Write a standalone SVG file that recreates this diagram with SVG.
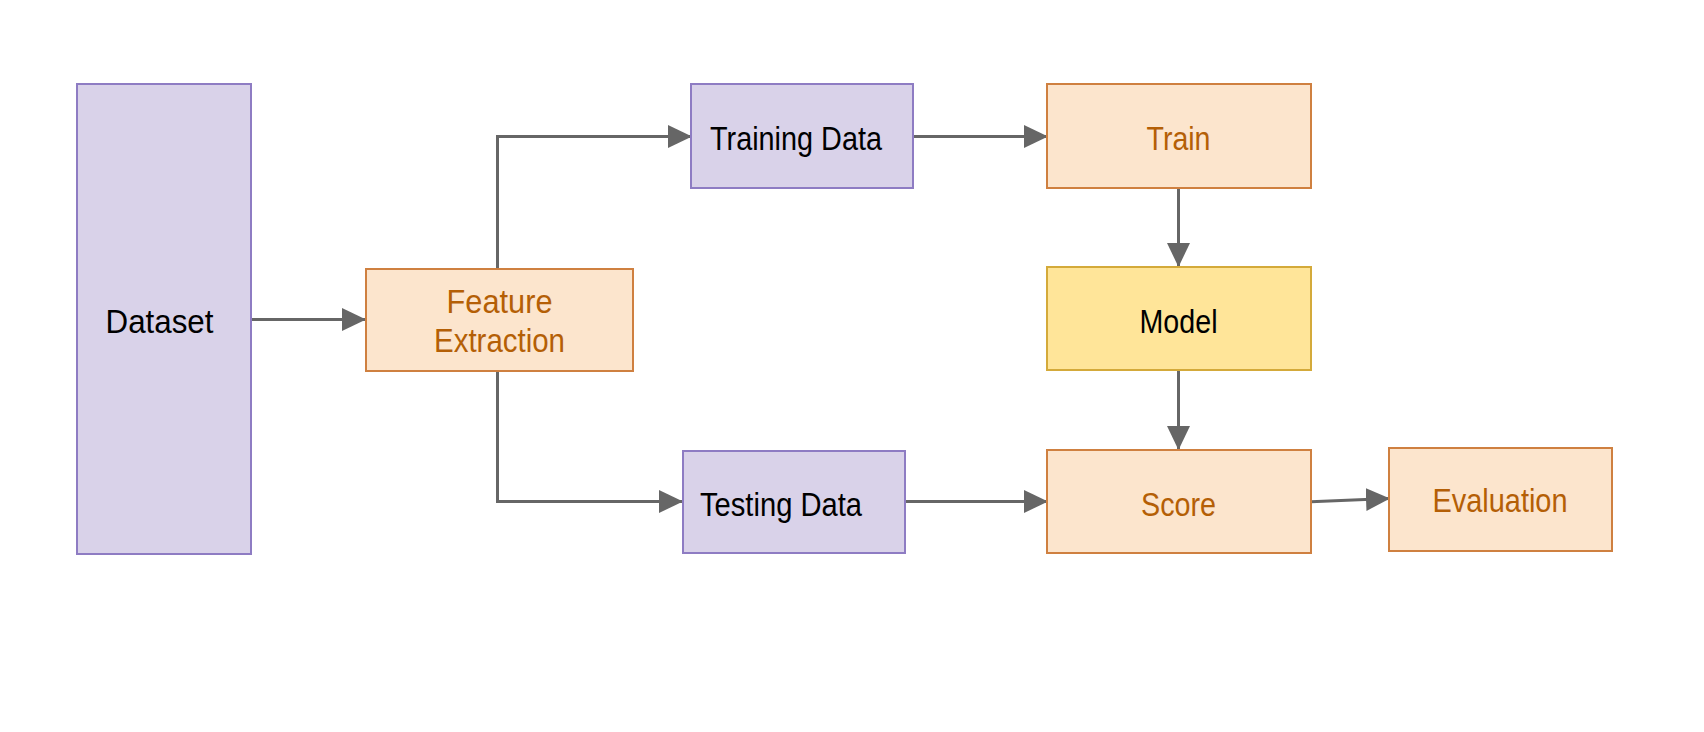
<svg xmlns="http://www.w3.org/2000/svg" width="1704" height="732" viewBox="0 0 1704 732">
<style>
.purple rect{fill:#d9d2e9;stroke:#8e7cc3;stroke-width:2}
.orange rect{fill:#fce5cd;stroke:#cf8040;stroke-width:2}
.yellow rect{fill:#ffe599;stroke:#d4aa3a;stroke-width:2}
text{font-family:"Liberation Sans",Arial,sans-serif;text-anchor:middle}
.dark{fill:#000000}
.brown{fill:#b45f06}
.big{font-size:34px}
.mid{font-size:33px}
#connectors path{fill:none;stroke:#666666;stroke-width:3;marker-end:url(#arrow)}
</style>
<defs>
<marker id="arrow" markerUnits="userSpaceOnUse" markerWidth="24" markerHeight="24" refX="23" refY="11.5" orient="auto">
<path d="M0,0 L24,11.5 L0,23 z" fill="#666666"/>
</marker>
</defs>
<rect width="1704" height="732" fill="#ffffff"/>
<g id="connectors">
<path d="M251,319.5 H365"/>
<path d="M497.5,269 V136.5 H691"/>
<path d="M497.5,371 V501.5 H682"/>
<path d="M913,136.5 H1047"/>
<path d="M1178.5,188 V266"/>
<path d="M1178.5,370 V449"/>
<path d="M905,501.5 H1047"/>
<path d="M1311,501.7 L1389,498.5"/>
</g>
<g id="dataset" class="purple">
<rect x="77" y="84" width="174" height="470"/>
<text x="159.5" y="333" class="dark mid" textLength="108" lengthAdjust="spacingAndGlyphs">Dataset</text>
</g>
<g id="feature-extraction" class="orange">
<rect x="366" y="269" width="267" height="102"/>
<text x="499.5" y="313" class="brown mid" textLength="106" lengthAdjust="spacingAndGlyphs">Feature</text>
<text x="499.5" y="352" class="brown mid" textLength="131" lengthAdjust="spacingAndGlyphs">Extraction</text>
</g>
<g id="training-data" class="purple">
<rect x="691" y="84" width="222" height="104"/>
<text x="796" y="150" class="dark big" textLength="172" lengthAdjust="spacingAndGlyphs">Training Data</text>
</g>
<g id="testing-data" class="purple">
<rect x="683" y="451" width="222" height="102"/>
<text x="781" y="516" class="dark big" textLength="162" lengthAdjust="spacingAndGlyphs">Testing Data</text>
</g>
<g id="train" class="orange">
<rect x="1047" y="84" width="264" height="104"/>
<text x="1178.5" y="150" class="brown big" textLength="64" lengthAdjust="spacingAndGlyphs">Train</text>
</g>
<g id="model" class="yellow">
<rect x="1047" y="267" width="264" height="103"/>
<text x="1178.5" y="333" class="dark big" textLength="78" lengthAdjust="spacingAndGlyphs">Model</text>
</g>
<g id="score" class="orange">
<rect x="1047" y="450" width="264" height="103"/>
<text x="1178.5" y="516" class="brown big" textLength="75" lengthAdjust="spacingAndGlyphs">Score</text>
</g>
<g id="evaluation" class="orange">
<rect x="1389" y="448" width="223" height="103"/>
<text x="1500" y="512" class="brown big" textLength="135" lengthAdjust="spacingAndGlyphs">Evaluation</text>
</g>
</svg>
